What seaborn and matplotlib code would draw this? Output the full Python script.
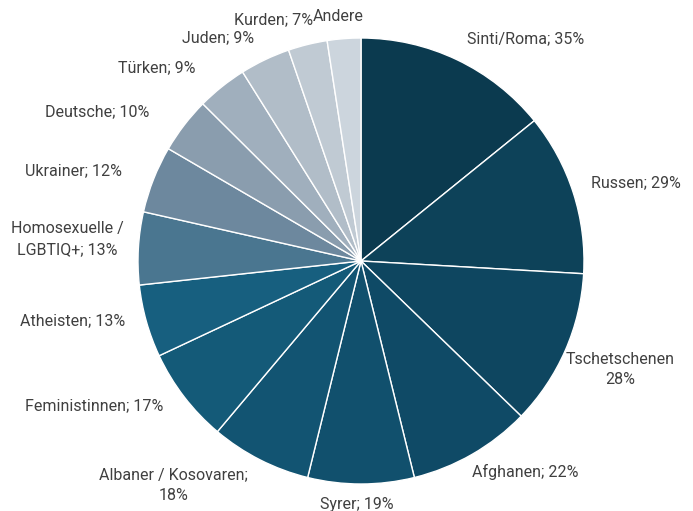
import numpy as np
import matplotlib
matplotlib.use("Agg")
import matplotlib.pyplot as plt
import seaborn as sns

# Gruppen und Anteile (Prozent), im Uhrzeigersinn ab 12 Uhr
groups = ["Sinti/Roma", "Russen", "Tschetschenen", "Afghanen", "Syrer",
          "Albaner / Kosovaren", "Feministinnen", "Atheisten",
          "Homosexuelle / LGBTIQ+", "Ukrainer", "Deutsche", "Türken",
          "Juden", "Kurden", "Andere"]
values = [35, 29, 28, 22, 19, 18, 17, 13, 13, 12, 10, 9, 9, 7, 6]
label_texts = ["Sinti/Roma; 35%", "Russen; 29%", "Tschetschenen\n28%",
               "Afghanen; 22%", "Syrer; 19%", "Albaner / Kosovaren;\n18%",
               "Feministinnen; 17%", "Atheisten; 13%",
               "Homosexuelle /\nLGBTIQ+; 13%", "Ukrainer; 12%",
               "Deutsche; 10%", "Türken; 9%", "Juden; 9%", "Kurden; 7%",
               "Andere"]
colors = ["#0b3a4f", "#0d4259", "#0e4660", "#0f4a66", "#11506d", "#125472",
          "#145a78", "#175f7f", "#4a7690", "#6d889e", "#8a9dae", "#a0afbd",
          "#b1bdc8", "#c0cad3", "#ccd5dd"]

# label placement: shift of angle (deg, clockwise) and distance (radius units)
label_shift = [11, 2, -1, -8, 1, 13, 9, 4, 1, -4, -8, -8, -7, -6, -1]
label_dist = [1.24, 1.28, 1.26, 1.20, 1.09, 1.31, 1.36, 1.32, 1.32, 1.35,
              1.36, 1.26, 1.19, 1.15, 1.10]

sns.set_style("white")
plt.rcParams["font.family"] = ["Roboto", "DejaVu Sans"]

fig = plt.figure(figsize=(6.93, 5.11), dpi=100)
ax = fig.add_axes([0, 0, 1, 1])

wedges, _ = ax.pie(values, colors=colors, startangle=90, counterclock=False,
                   radius=1.0, wedgeprops=dict(edgecolor="white", linewidth=1.0))

for w, txt, sh, d in zip(wedges, label_texts, label_shift, label_dist):
    mid = np.deg2rad((w.theta1 + w.theta2) / 2 - sh)
    ax.text(d * np.cos(mid), d * np.sin(mid), txt, ha="center", va="center",
            fontsize=11.5, color="#404040", linespacing=1.45)

ax.set_xlim(-361 / 223, (693 - 361) / 223)
ax.set_ylim(-250 / 223, 261 / 223)
ax.set_aspect("auto")
ax.axis("off")

fig.savefig("out.png", dpi=100)
